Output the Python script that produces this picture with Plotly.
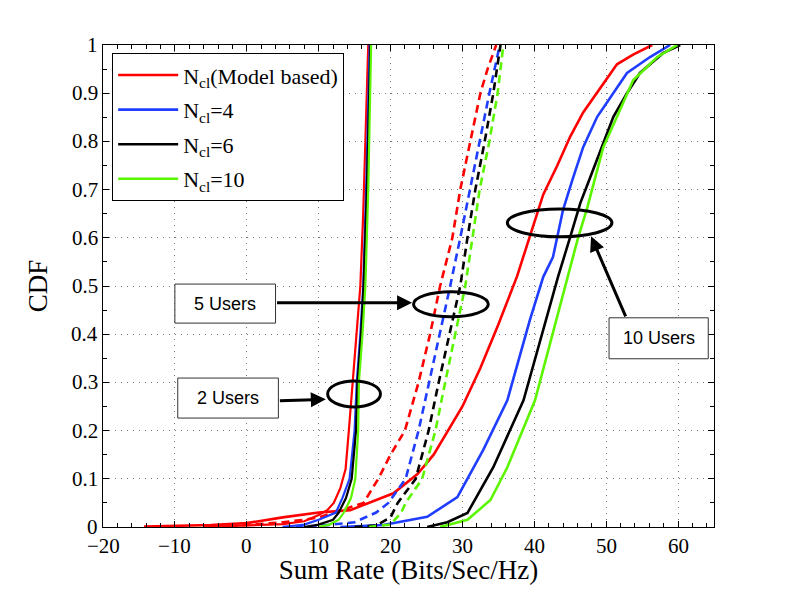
import plotly.graph_objects as go

# CDF curves: x = sum rate, y = CDF level
models = ["N<sub>cl</sub>(Model based)", "N<sub>cl</sub>=4", "N<sub>cl</sub>=6", "N<sub>cl</sub>=10"]
colors = ["#ff0000", "#1f3dff", "#000000", "#5cf500"]

x_ticks = [-20, -10, 0, 10, 20, 30, 40, 50, 60]
y_ticks = [0, 0.1, 0.2, 0.3, 0.4, 0.5, 0.6, 0.7, 0.8, 0.9, 1]

# 2 users (solid, steep)
u2_red_x = [-6, -2, 1, 5, 8, 10, 11.2, 12.1, 13.0, 13.75, 14.2, 14.7, 15.3, 15.8, 16.2, 16.5, 16.9]
u2_red_y = [0.0, 0.002, 0.004, 0.006, 0.012, 0.025, 0.035, 0.05, 0.08, 0.12, 0.2, 0.3, 0.4, 0.5, 0.65, 0.8, 1.0]
u2_blue_x = [5, 8, 10, 12.4, 13.3, 14.3, 15.0, 15.3, 15.8, 16.2, 16.6, 17.1]
u2_blue_y = [0.0, 0.005, 0.015, 0.03, 0.06, 0.1, 0.2, 0.3, 0.4, 0.5, 0.7, 1.0]
u2_black_x = [8, 10, 12, 12.8, 13.8, 14.6, 15.2, 15.4, 15.9, 16.25, 16.7, 17.2]
u2_black_y = [0.0, 0.005, 0.015, 0.03, 0.06, 0.1, 0.2, 0.3, 0.4, 0.5, 0.7, 1.0]
u2_green_x = [10, 11.5, 12.8, 13.5, 14.5, 15.1, 15.5, 15.6, 16.1, 16.5, 16.9, 17.3]
u2_green_y = [0.0, 0.005, 0.015, 0.03, 0.06, 0.1, 0.2, 0.3, 0.4, 0.5, 0.7, 1.0]

# 5 users (dashed)
u5_red_x = [-6, 0, 5, 8, 10, 12, 14, 16.25, 18.3, 20, 22, 23.9, 25.5, 26.9, 28.6, 29.7, 31.1, 32.5, 33.5, 34.7]
u5_red_y = [0.0, 0.004, 0.01, 0.015, 0.02, 0.03, 0.04, 0.05, 0.1, 0.15, 0.2, 0.3, 0.4, 0.5, 0.6, 0.7, 0.8, 0.9, 0.95, 1.0]
u5_blue_x = [5, 10, 15, 18, 19.7, 22.1, 23.9, 25.4, 26.8, 28.3, 29.7, 31.0, 32.4, 33.75, 35.2]
u5_blue_y = [0.0, 0.002, 0.01, 0.03, 0.05, 0.1, 0.2, 0.3, 0.4, 0.5, 0.6, 0.7, 0.8, 0.9, 1.0]
u5_black_x = [15, 18, 20, 21, 23.5, 25.3, 26.7, 28.2, 29.7, 30.7, 31.8, 33.1, 34.3, 35.3]
u5_black_y = [0.0, 0.003, 0.02, 0.05, 0.1, 0.2, 0.3, 0.4, 0.5, 0.6, 0.7, 0.8, 0.9, 1.0]
u5_green_x = [17, 20, 21.5, 22.1, 24.4, 26.25, 27.6, 29.0, 30.4, 31.4, 32.4, 33.75, 34.9, 35.7]
u5_green_y = [0.0, 0.005, 0.03, 0.05, 0.1, 0.2, 0.3, 0.4, 0.5, 0.6, 0.7, 0.8, 0.9, 1.0]

# 10 users (solid)
u10_red_x = [-14.3, -10.6, -5, 0, 5, 10, 14.4, 20.4, 22, 23.75, 26, 28, 30, 32.5, 35, 37.6, 39.9,
             41.25, 43.2, 45.0, 46.8, 49.2, 51.5, 53.75, 56.4]
u10_red_y = [0.001, 0.002, 0.004, 0.008, 0.02, 0.03, 0.035, 0.07, 0.09, 0.11, 0.15, 0.2, 0.25, 0.33, 0.42,
             0.52, 0.63, 0.69, 0.75, 0.81, 0.86, 0.91, 0.96, 0.98, 1.0]
u10_blue_x = [13, 19.0, 25.1, 29.3, 32.9, 36.25, 39.4, 41.25, 42.6, 44.0, 45.3, 46.8, 48.75, 50.6, 52.9, 56.1, 58.9]
u10_blue_y = [0.0, 0.004, 0.021, 0.062, 0.16, 0.263, 0.43, 0.519, 0.56, 0.658, 0.72, 0.788, 0.851, 0.892,
              0.942, 0.975, 1.0]
u10_black_x = [25.1, 27.9, 30.7, 34.3, 38.5, 43.3, 45.0, 46.4, 47.8, 49.6, 51.0, 52.9, 54.7, 57.9, 60.3]
u10_black_y = [0.0, 0.01, 0.029, 0.124, 0.263, 0.519, 0.602, 0.672, 0.726, 0.797, 0.851, 0.9, 0.942, 0.983, 1.0]
u10_green_x = [26.9, 30.7, 33.9, 36.25, 40.1, 44.6, 46.0, 47.4, 48.75, 49.6, 51.5, 53.75, 57.1, 59.9]
u10_green_y = [0.0, 0.015, 0.056, 0.124, 0.263, 0.519, 0.595, 0.664, 0.741, 0.788, 0.851, 0.927, 0.975, 1.0]

curves_2 = [(u2_red_x, u2_red_y), (u2_blue_x, u2_blue_y), (u2_black_x, u2_black_y), (u2_green_x, u2_green_y)]
curves_5 = [(u5_red_x, u5_red_y), (u5_blue_x, u5_blue_y), (u5_black_x, u5_black_y), (u5_green_x, u5_green_y)]
curves_10 = [(u10_red_x, u10_red_y), (u10_blue_x, u10_blue_y), (u10_black_x, u10_black_y),
             (u10_green_x, u10_green_y)]

fig = go.Figure()

for i, (name, color) in enumerate(zip(models, colors)):
    grp = f"g{i}"
    fig.add_trace(go.Scatter(x=curves_10[i][0], y=curves_10[i][1], mode="lines", name=name,
                             legendgroup=grp, line=dict(color=color, width=2.6)))
    fig.add_trace(go.Scatter(x=curves_5[i][0], y=curves_5[i][1], mode="lines", name=name,
                             legendgroup=grp, showlegend=False,
                             line=dict(color=color, width=2.6, dash="8px,5px")))
    fig.add_trace(go.Scatter(x=curves_2[i][0], y=curves_2[i][1], mode="lines", name=name,
                             legendgroup=grp, showlegend=False, line=dict(color=color, width=2.2)))

# annotation boxes, ellipses and arrows (data coordinates)
boxes = [("5 Users", -10, 4.0, 0.423, 0.504),
         ("2 Users", -9.6, 4.4, 0.226, 0.309),
         ("10 Users", 50.4, 64.2, 0.349, 0.434)]
ellipses = [(23.2, 33.6, 0.436, 0.488), (11.25, 18.6, 0.249, 0.303), (36.25, 50.8, 0.602, 0.660)]
arrows = [(4.0, 0.465, 23.0, 0.465), (4.4, 0.262, 11.0, 0.265), (52.8, 0.434, 47.9, 0.603)]

for text, x0, x1, y0, y1 in boxes:
    fig.add_shape(type="rect", x0=x0, x1=x1, y0=y0, y1=y1, xref="x", yref="y",
                  line=dict(color="#333333", width=1), fillcolor="white", layer="above")
    fig.add_annotation(x=(x0 + x1) / 2, y=(y0 + y1) / 2, text=text, showarrow=False,
                       font=dict(family="Liberation Sans", size=18, color="black"))

for x0, x1, y0, y1 in ellipses:
    fig.add_shape(type="circle", x0=x0, x1=x1, y0=y0, y1=y1, xref="x", yref="y",
                  line=dict(color="black", width=3), layer="above")

for tx, ty, hx, hy in arrows:
    fig.add_annotation(x=hx, y=hy, ax=tx, ay=ty, xref="x", yref="y", axref="x", ayref="y",
                       text="", showarrow=True, arrowhead=2, arrowsize=1, arrowwidth=3,
                       arrowcolor="black")

serif = "Liberation Serif"
tick_font = dict(family=serif, size=21, color="black")

# tick labels as annotations on the axes, so the axis titles can sit as tight as in the original
for v in x_ticks:
    fig.add_annotation(x=v, y=0, xref="x", yref="paper", yanchor="top", yshift=-5,
                       text=str(v).replace("-", "\u2212"), showarrow=False, font=tick_font)
for v in y_ticks:
    fig.add_annotation(x=0, y=v, xref="paper", yref="y", xanchor="right", xshift=-3,
                       text=f"{v:g}", showarrow=False, font=tick_font)

fig.update_layout(
    width=789, height=594,
    # page body adds 8px, so margins are trimmed to keep the plot box where it is in the original
    margin=dict(l=95, r=83, t=37, b=75),
    font=dict(family=serif, size=21, color="black"),
    plot_bgcolor="white", paper_bgcolor="white",
    xaxis=dict(range=[-20, 65], tickvals=x_ticks, showticklabels=False,
               showline=True, linecolor="black", linewidth=1, mirror="ticks",
               ticks="inside", ticklen=6, tickcolor="black",
               showgrid=True, gridcolor="#777777", gridwidth=1, griddash="1px,5px", zeroline=False,
               minor=dict(dtick=2, ticks="inside", ticklen=4, tickcolor="black", showgrid=False),
               title=dict(text="Sum Rate (Bits/Sec/Hz)", standoff=33,
                          font=dict(family=serif, size=27, color="black"))),
    yaxis=dict(range=[0, 1], tickvals=y_ticks, showticklabels=False,
               showline=True, linecolor="black", linewidth=1, mirror="ticks",
               ticks="inside", ticklen=6, tickcolor="black",
               showgrid=True, gridcolor="#777777", gridwidth=1, griddash="1px,5px", zeroline=False,
               minor=dict(dtick=0.05, ticks="inside", ticklen=4, tickcolor="black", showgrid=False),
               title=dict(text="CDF", standoff=46,
                          font=dict(family=serif, size=27, color="black"))),
    legend=dict(x=0.015, y=0.983, xanchor="left", yanchor="top",
                bgcolor="white", bordercolor="black", borderwidth=1,
                traceorder="grouped", tracegroupgap=3, itemwidth=60,
                font=dict(family=serif, size=22, color="black")),
    showlegend=True,
)

fig.write_html("out.html")
